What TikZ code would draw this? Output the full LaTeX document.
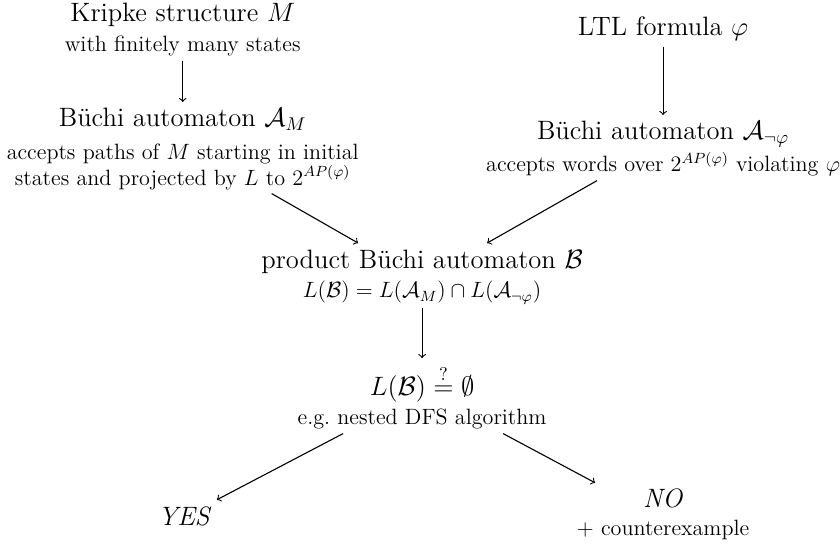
\documentclass[tikz,border=0pt]{standalone}
\usepackage{amsmath}
\usepackage{amssymb}

\begin{document}
\begin{tikzpicture}[
		headline/.style={font=\Large, anchor=base},
		subline/.style={font=\large, anchor=base, align=center, inner sep=2pt},
		flow/.style={->, semithick}]
		%%%%% START %%%%%
		\useasboundingbox (0, 0) rectangle (16, 10.438);
		
		% left column
		\node[headline] (kripke) at (3.48, 10.019) {Kripke structure $M$};
		\node[subline] (kripkesub) at (3.48, 9.448) {with finitely many states};
		\node[headline] (autm) at (3.48, 8.019) {B\"uchi automaton $\mathcal{A}_M$};
		\node[subline] (autmsub) at (3.48, 6.914) {accepts paths of $M$ starting in initial\\states and projected by $L$ to $2^{AP(\varphi)}$};
		
		% right column
		\node[headline] (ltl) at (12.63, 9.771) {LTL formula $\varphi$};
		\node[headline] (autn) at (12.63, 7.772) {B\"uchi automaton $\mathcal{A}_{\neg\varphi}$};
		\node[subline] (autnsub) at (12.63, 7.162) {accepts words over $2^{AP(\varphi)}$ violating $\varphi$};
		
		% product and check
		\node[headline] (prod) at (8.04, 5.333) {product B\"uchi automaton $\mathcal{B}$};
		\node[subline] (prodsub) at (8.04, 4.762) {$L(\mathcal{B}) = L(\mathcal{A}_M) \cap L(\mathcal{A}_{\neg\varphi})$};
		\node[headline] (test) at (8.04, 2.914) {$L(\mathcal{B}) \stackrel{?}{=} \emptyset$};
		\node[subline] (testsub) at (8.04, 2.343) {e.g.\ nested DFS algorithm};
		
		% answers
		\node[headline] (yes) at (3.52, 0.438) {\textit{YES}};
		\node[headline] (no) at (12.63, 0.762) {\textit{NO}};
		\node[subline] (nosub) at (12.63, 0.229) {$+$ counterexample};
		
		\draw[flow] (kripkesub) -- (autm);
		\draw[flow] (ltl) -- (autn);
		\draw[flow] ([xshift=1.695cm]autmsub.south) -- ([xshift=-1.219cm]prod.north);
		\draw[flow] ([xshift=-1.257cm]autnsub.south) -- ([xshift=1.238cm]prod.north);
		\draw[flow] (prodsub) -- (test);
		\draw[flow] ([xshift=-1.505cm]testsub.south) -- ([xshift=0.61cm]yes.north);
		\draw[flow] ([xshift=1.543cm]testsub.south) -- ([xshift=-1.295cm]no.north);
		%%%%% END %%%%%
	\end{tikzpicture}
\end{document}
